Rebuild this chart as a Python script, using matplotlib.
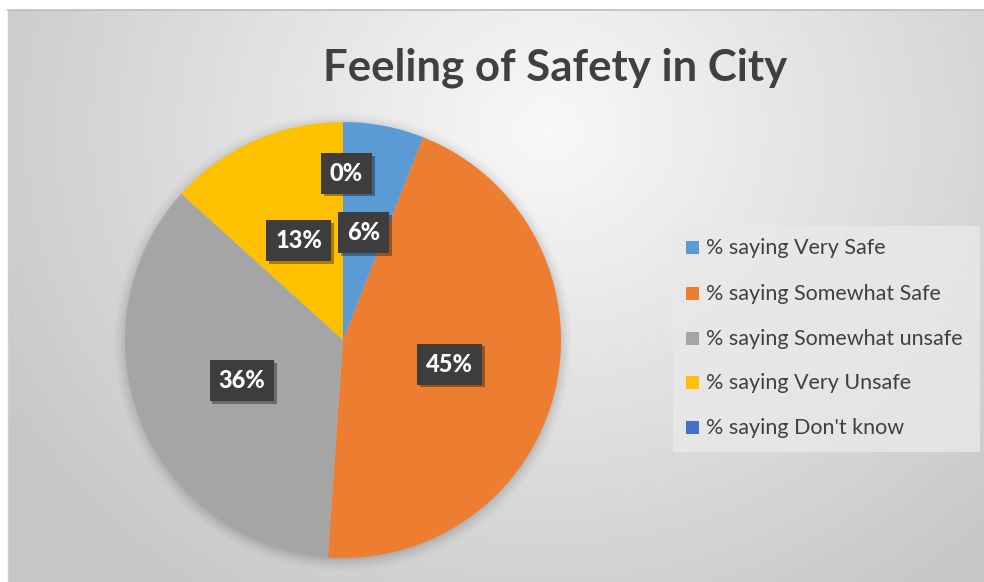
import numpy as np
import matplotlib
matplotlib.use("Agg")
import matplotlib.pyplot as plt
import matplotlib.patheffects as pe

# data
categories = ["% saying Very Safe", "% saying Somewhat Safe",
              "% saying Somewhat unsafe", "% saying Very Unsafe",
              "% saying Don't know"]
values = [6.0, 45.1, 35.6, 13.3, 0.0]
pct_labels = ["6%", "45%", "36%", "13%", "0%"]
colors = ["#5B9BD5", "#ED7D31", "#A5A5A5", "#FFC000", "#4472C4"]

W, H = 984, 582
fig = plt.figure(figsize=(W / 100, H / 100), dpi=100)
fig.patch.set_facecolor("white")

# background with radial gradient (chart area starts a few px in)
bg = fig.add_axes([8 / W, 0, (W - 8) / W, (H - 10) / H])
yy, xx = np.mgrid[0:572, 0:976]
d = np.sqrt(((xx - 540) / 620) ** 2 + ((yy - 120) / 560) ** 2)
g = np.clip(0.975 - 0.19 * d, 0.78, 0.975)
bg.imshow(np.dstack([g, g, g]), aspect="auto", extent=(0, 976, 572, 0))
bg.set_xlim(0, 976); bg.set_ylim(572, 0)
bg.axis("off")
# thin border lines on top/left
fig.add_artist(plt.Line2D([8 / W, 1], [1 - 10 / H] * 2, color="#bdbdbd", lw=1.2))
fig.add_artist(plt.Line2D([8 / W] * 2, [0, 1 - 10 / H], color="#cfcfcf", lw=1.0))

fig.text(555 / W, 1 - 68 / H, "Feeling of Safety in City", ha="center", va="center",
         fontsize=31.5, fontweight="bold", color="#404040", family="Lato")

# pie axes: centre (343,340) px, radius 218 px
cx, cy, r = 343, 340, 218
ax = fig.add_axes([(cx - r) / W, (H - cy - r) / H, 2 * r / W, 2 * r / H])
# soft shadow behind pie
for k, a in zip(np.linspace(1.05, 1.0, 6), np.linspace(0.012, 0.04, 6)):
    ax.add_patch(plt.Circle((0.0, -0.01), k, color="black", alpha=a, lw=0,
                            zorder=0, clip_on=False))
wedges, _ = ax.pie(values, colors=colors, startangle=90, counterclock=False,
                   wedgeprops=dict(linewidth=0))
ax.set_xlim(-1, 1); ax.set_ylim(-1, 1)
ax.set_aspect("equal")
ax.axis("off")

for w, lab in zip(wedges, pct_labels):
    mid = np.deg2rad((w.theta1 + w.theta2) / 2)
    dist = 0.5 if w.theta2 - w.theta1 > 0.5 else 0.78
    x, y = dist * np.cos(mid), dist * np.sin(mid)
    if dist > 0.6:
        x += 0.015
        y -= 0.015
    t = ax.text(x, y, lab, ha="center", va="center", color="white",
                fontsize=17, fontweight="black", family="Lato", zorder=5,
                bbox=dict(boxstyle="square,pad=0.38", fc="#3d3d3d", ec="none"))
    t.get_bbox_patch().set_path_effects(
        [pe.withSimplePatchShadow(offset=(2, -2), shadow_rgbFace="black", alpha=0.35),
         pe.Normal()])

# legend panel
lx0, ly0, lx1, ly1 = 673, 226, 980, 452
fig.add_artist(plt.Rectangle((lx0 / W, 1 - ly1 / H), (lx1 - lx0) / W, (ly1 - ly0) / H,
                             transform=fig.transFigure, fc="#e9e9e9", ec="none",
                             alpha=0.8))
ys = [248, 294, 339, 383, 428]
for c, lab, yp in zip(colors, categories, ys):
    fig.add_artist(plt.Rectangle((686 / W, 1 - (yp + 6) / H), 13 / W, 13 / H,
                                 transform=fig.transFigure, fc=c, ec="none"))
    fig.text(706 / W, 1 - yp / H, lab, ha="left", va="center", fontsize=15.5,
             color="#404040", family="Lato")

fig.savefig("out.png", dpi=100)
